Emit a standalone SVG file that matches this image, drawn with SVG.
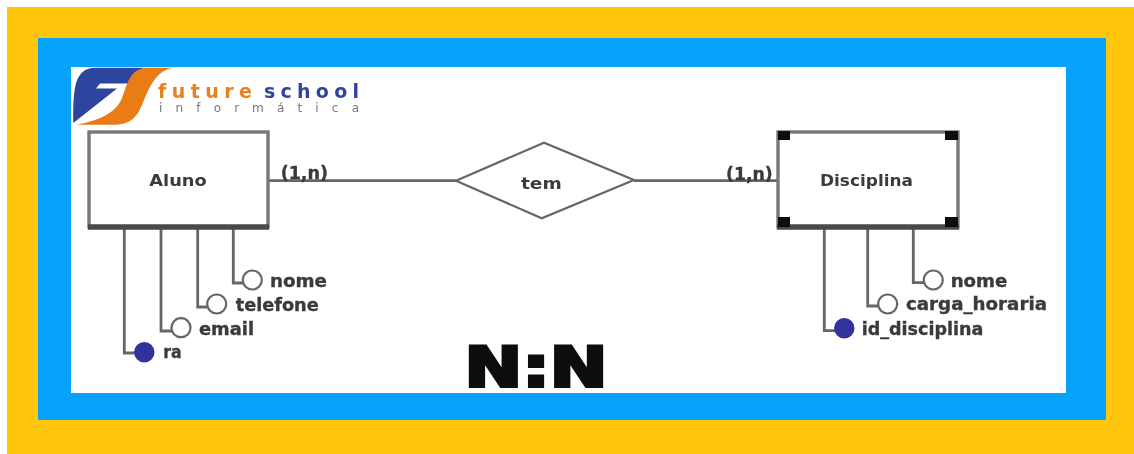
<svg xmlns="http://www.w3.org/2000/svg" width="1134" height="454" viewBox="0 0 1134 454">
<style>
text{font-family:"DejaVu Sans","Liberation Sans",sans-serif;font-weight:700;fill:#3a3a3a;}
.lbl{font-size:17px;stroke:#3a3a3a;stroke-width:0.35;}
.ent{font-size:15px;}
.wire{fill:none;stroke:#666;stroke-width:2.8;}
.box{fill:#fff;stroke:#777;stroke-width:3.4;}
.base{stroke:#4a4a4a;stroke-width:5.5;fill:none;}
.attr{fill:#fff;stroke:#666;stroke-width:2.2;}
.key{fill:#33339a;stroke:#33339a;stroke-width:1.5;}
.sq{fill:#111;}
.soft{filter:url(#soft);}
</style>
<defs><filter id="soft" x="-5%" y="-5%" width="110%" height="110%"><feGaussianBlur stdDeviation="0.6"/></filter></defs>
<rect x="0" y="0" width="1134" height="454" fill="#fff"/>
<rect x="7" y="7" width="1127" height="447" fill="#ffc60b"/>
<rect x="38" y="38" width="1068" height="382" fill="#06a2fb"/>
<rect x="71" y="67" width="995" height="326" fill="#fff"/>
<g id="logo" class="soft">
<path d="M73.3,123 C73,100 74,82 80,75 C84,69 90,67.7 97,67.7 L145,67.7 C136,71 131,76 128.5,83.5 L100,83.5 L96,88.5 L117,88.5 Z" fill="#2f459f"/>
<path d="M173.3,67.7 C157,70 150,86 144,100 C139,113 134,124.3 115,124.8 L76.7,124.8 C100,120 116,113 122,98 C126,88 128,76 137,70.5 C141,68 146,67.7 150,67.7 Z" fill="#ea7b13"/>
<text x="158" y="97.5" font-size="19" textLength="94" lengthAdjust="spacing" style="fill:#e8801f">future</text>
<text x="264" y="97.5" font-size="19" textLength="95" lengthAdjust="spacing" style="fill:#2f459f">school</text>
<text x="159" y="111.5" font-size="12" textLength="200" lengthAdjust="spacing" style="fill:#777;font-weight:400">informática</text>
</g>
<g id="connectors" class="soft">
<path class="wire" d="M268,180.7H456"/>
<path class="wire" d="M634,180.7H778"/>
<path class="wire" d="M124.3,228V353H135"/>
<path class="wire" d="M161,228V331H172"/>
<path class="wire" d="M197.7,228V307H207"/>
<path class="wire" d="M233.3,228V283H243"/>
<path class="wire" d="M824.3,228V330.7H835"/>
<path class="wire" d="M867.7,228V306H878"/>
<path class="wire" d="M913.3,228V282.7H924"/>
</g>
<g id="aluno" class="soft">
<rect class="box" x="89" y="132" width="179" height="95"/>
<path class="base" d="M88,227H269"/>
<text class="ent" x="149.3" y="185.7" textLength="57.5" lengthAdjust="spacingAndGlyphs">Aluno</text>
</g>
<g id="disciplina" class="soft">
<rect class="box" x="778" y="132" width="180" height="95"/>
<path class="base" d="M777,227H959"/>
<rect class="sq" x="778" y="131" width="12" height="9"/>
<rect class="sq" x="945" y="131" width="13" height="9"/>
<rect class="sq" x="778" y="217" width="12" height="10"/>
<rect class="sq" x="945" y="217" width="13" height="10"/>
<text class="ent" x="820" y="186" textLength="93" lengthAdjust="spacingAndGlyphs">Disciplina</text>
</g>
<g id="tem" class="soft">
<polygon points="456,180.7 544,142.7 634,180 541.7,218.3" fill="#fff" stroke="#666" stroke-width="2.2"/>
<text x="521" y="189" font-size="16" textLength="40.7" lengthAdjust="spacingAndGlyphs">tem</text>
</g>
<g id="card-left" class="soft"><text class="lbl" x="280.7" y="179" textLength="47.3" lengthAdjust="spacingAndGlyphs">(1,n)</text></g>
<g id="card-right" class="soft"><text class="lbl" x="726" y="180" textLength="46.7" lengthAdjust="spacingAndGlyphs">(1,n)</text></g>
<g id="a-ra" class="soft"><circle class="key" cx="144.3" cy="352.3" r="9.5"/><text class="lbl" x="163.3" y="358.3" textLength="18.4" lengthAdjust="spacingAndGlyphs">ra</text></g>
<g id="a-email" class="soft"><circle class="attr" cx="181" cy="327.7" r="9.5"/><text class="lbl" x="199" y="335" textLength="55" lengthAdjust="spacingAndGlyphs">email</text></g>
<g id="a-telefone" class="soft"><circle class="attr" cx="216.7" cy="304" r="9.5"/><text class="lbl" x="235.7" y="310.7" textLength="83" lengthAdjust="spacingAndGlyphs">telefone</text></g>
<g id="a-nome" class="soft"><circle class="attr" cx="252.3" cy="280" r="9.5"/><text class="lbl" x="270" y="287" textLength="57" lengthAdjust="spacingAndGlyphs">nome</text></g>
<g id="d-id" class="soft"><circle class="key" cx="844.3" cy="328.3" r="9.5"/><text class="lbl" x="861.7" y="335" textLength="121.6" lengthAdjust="spacingAndGlyphs">id_disciplina</text></g>
<g id="d-carga" class="soft"><circle class="attr" cx="887.7" cy="304" r="9.5"/><text class="lbl" x="906" y="310" textLength="141" lengthAdjust="spacingAndGlyphs">carga_horaria</text></g>
<g id="d-nome" class="soft"><circle class="attr" cx="933.3" cy="280" r="9.5"/><text class="lbl" x="950.7" y="286.7" textLength="56.6" lengthAdjust="spacingAndGlyphs">nome</text></g>
<g id="title" class="soft"><text x="464.5" y="386.2" font-size="55" textLength="143" lengthAdjust="spacingAndGlyphs" style="fill:#0a0a0a;stroke:#0a0a0a;stroke-width:3.2;stroke-linejoin:miter">N:N</text></g>
</svg>
